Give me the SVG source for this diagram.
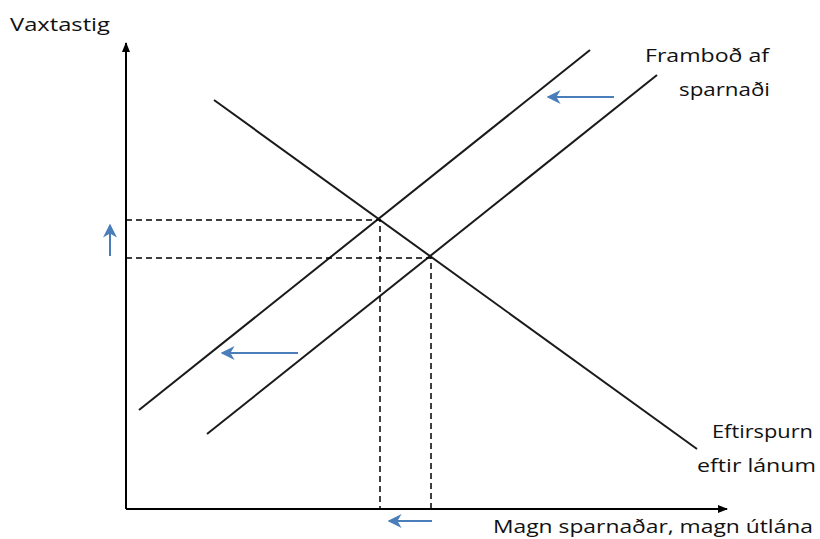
<svg xmlns="http://www.w3.org/2000/svg" width="820" height="539" viewBox="0 0 820 539">
<style>
.ax{stroke:#000;stroke-width:2;fill:none}
.ln{stroke:#1a1a1a;stroke-width:2;fill:none}
.ds{stroke:#000;stroke-width:1.5;stroke-dasharray:6,4;fill:none}
.bl{stroke:#4a7ebb;stroke-width:2;fill:none}
.t{font-family:"Open Sans","Noto Sans",sans-serif;font-size:19px;fill:#111}
</style>
<defs>
<marker id="ah" viewBox="0 0 10 10" refX="9" refY="5" markerWidth="11" markerHeight="10" markerUnits="userSpaceOnUse" orient="auto">
<path d="M0,1 L10,5 L0,9 Z" fill="#000"/>
</marker>
<marker id="bh" viewBox="0 0 10 10" refX="9" refY="5" markerWidth="14" markerHeight="14" markerUnits="userSpaceOnUse" orient="auto">
<path d="M0,0 L10,5 L0,10 L3,5 Z" fill="#4a7ebb"/>
</marker>
</defs>
<rect width="820" height="539" fill="#fff"/>
<g id="axes">
<line class="ax" x1="126" y1="509" x2="126" y2="43" marker-end="url(#ah)"/>
<line class="ax" x1="126" y1="509" x2="727" y2="509" marker-end="url(#ah)"/>
<text class="t" x="10" y="31" textLength="100" lengthAdjust="spacingAndGlyphs">Vaxtastig</text>
<text class="t" x="493" y="533" textLength="320" lengthAdjust="spacingAndGlyphs">Magn sparnaðar, magn útlána</text>
</g>
<g id="demand">
<line class="ln" x1="214" y1="100" x2="697" y2="449"/>
<text class="t" x="712" y="438" textLength="101" lengthAdjust="spacingAndGlyphs">Eftirspurn</text>
<text class="t" x="697" y="472" textLength="119" lengthAdjust="spacingAndGlyphs">eftir lánum</text>
</g>
<g id="supply-new">
<line class="ln" x1="139" y1="410" x2="590" y2="50"/>
</g>
<g id="supply-old">
<line class="ln" x1="207" y1="434" x2="657" y2="75"/>
<text class="t" x="645" y="62" textLength="124" lengthAdjust="spacingAndGlyphs">Framboð af</text>
<text class="t" x="679" y="96" textLength="91" lengthAdjust="spacingAndGlyphs">sparnaði</text>
</g>
<g id="connectors">
<polyline class="ds" points="126,220 380,220 380,509"/>
<polyline class="ds" points="126,258 431,258 431,509"/>
<line class="bl" x1="614" y1="97" x2="548" y2="97" marker-end="url(#bh)"/>
<line class="bl" x1="298" y1="353" x2="222" y2="353" marker-end="url(#bh)"/>
<line class="bl" x1="110" y1="256" x2="110" y2="225" marker-end="url(#bh)"/>
<line class="bl" x1="432" y1="521" x2="389" y2="521" marker-end="url(#bh)"/>
</g>
</svg>
